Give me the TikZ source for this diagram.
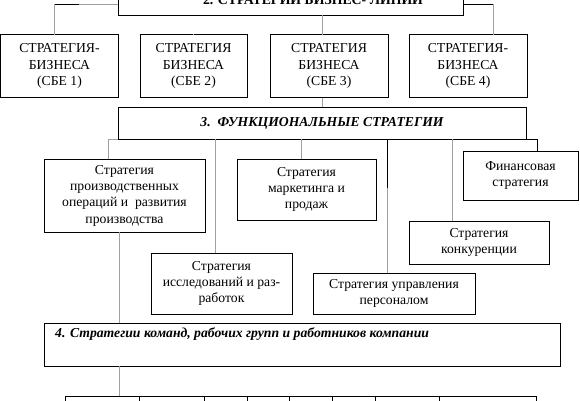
\documentclass[tikz,border=0pt]{standalone}
\usepackage{fontspec}
\setmainfont{Liberation Serif}
\definecolor{lgray}{RGB}{160,160,160}
\tikzset{
  box/.style={draw=black, line width=0.9pt, inner sep=0pt, outer sep=0pt, align=center,
    font=\fontsize{13.7}{16.3}\selectfont},
  cell/.style={draw=black, line width=0.9pt, inner sep=0pt, outer sep=0pt, minimum height=30pt},
  gline/.style={draw=lgray, line width=1pt},
  bline/.style={draw=black, line width=1pt},
  hdr/.style={font=\fontsize{13.7}{15}\selectfont\bfseries\itshape}
}
\begin{document}
\begin{tikzpicture}[x=1pt,y=-1pt]
\useasboundingbox (0,0) rectangle (580,400);
\clip (0,0) rectangle (580,400);
% level 2
\node[box, minimum width=345pt, minimum height=30pt] (top) at (290.5,0) {};
\node[font=\fontsize{13.8}{15}\selectfont\bfseries, inner sep=0pt, anchor=base] (toptxt) at (313,4) {2. СТРАТЕГИИ БИЗНЕС- ЛИНИИ};
% SBE boxes
\node[box, minimum width=118pt, minimum height=63pt] (s1) at (59.5,66) {СТРАТЕГИЯ-\\БИЗНЕСА\\(СБЕ 1)};
\node[box, minimum width=107pt, minimum height=63pt] (s2) at (193.5,66) {СТРАТЕГИЯ\\БИЗНЕСА\\(СБЕ 2)};
\node[box, minimum width=118pt, minimum height=63pt] (s3) at (329,66) {СТРАТЕГИЯ\\БИЗНЕСА\\(СБЕ 3)};
\node[box, minimum width=118pt, minimum height=63pt] (s4) at (468,66) {СТРАТЕГИЯ-\\БИЗНЕСА\\(СБЕ 4)};
% level 3
\node[box, minimum width=408pt, minimum height=32pt, hdr] (f3) at (322,123) {3.\ \ ФУНКЦИОНАЛЬНЫЕ СТРАТЕГИИ};
\node[box, minimum width=161pt, minimum height=73pt] (prod) at (124.5,195.5) {Стратегия\\производственных\\операций и\ \ развития\\производства};
\node[box, minimum width=139pt, minimum height=61pt] (mark) at (306.5,189.5) {Стратегия\\маркетинга и\\продаж};
\node[box, minimum width=115pt, minimum height=49pt] (fin) at (520.5,175.5) {Финансовая\\стратегия};
\node[box, minimum width=140pt, minimum height=43pt] (comp) at (479,242.5) {Стратегия\\конкуренции};
\node[box, minimum width=141pt, minimum height=61pt] (res) at (221.5,283.5) {Стратегия\\исследований и раз-\\работок};
\node[box, minimum width=162pt, minimum height=41pt] (pers) at (394,293.5) {Стратегия управления\\персоналом};
% level 4
\node[box, minimum width=516pt, minimum height=43pt] (f4) at (302,344.5) {};
\node[hdr, inner sep=0pt, anchor=north west] (f4t) at (55,327) {4. Стратегии команд, рабочих групп и работников компании};
% bottom row cells
\node[cell, minimum width=74.5pt, anchor=north west] (c1) at (65,396) {};
\node[cell, minimum width=64.5pt, anchor=north west] (c2) at (139.5,396) {};
\node[cell, minimum width=43pt, anchor=north west] (c3) at (204,396) {};
\node[cell, minimum width=42pt, anchor=north west] (c4) at (247,396) {};
\node[cell, minimum width=43pt, anchor=north west] (c5) at (289,396) {};
\node[cell, minimum width=43pt, anchor=north west] (c6) at (332,396) {};
\node[cell, minimum width=64pt, anchor=north west] (c7) at (375,396) {};
\node[cell, minimum width=97pt, anchor=north west] (c8) at (439,396) {};
% connectors level 2 -> SBE
\coordinate (tl1) at (79,4.3);
\coordinate (tl2) at (54,4.3);
\draw[gline] (top.west |- tl1) -- (tl1);
\draw[bline] (tl1) -- (tl2);
\draw[gline] (tl2) -- (tl2 |- s1.north);
\draw[gline] (s2.north -| 193,0) -- (s2.north);
\draw[gline] (top.south -| 322,0) -- (s3.north -| 322,0);
\coordinate (tr1) at (493,4.3);
\draw[bline] (top.east |- tr1) -- (tr1);
\draw[gline] (tr1) -- (tr1 |- s4.north);
% SBE3 -> F3
\draw[gline] (s3.south -| 322,0) -- (f3.north -| 322,0);
% F3 -> functional boxes
\coordinate (fl) at (108,139);
\draw[gline] (f3.south west) -- (fl) -- (fl |- prod.north);
\draw[gline] (f3.south -| 215.5,0) -- (res.north -| 215.5,0);
\draw[gline] (f3.south -| 301,0) -- (mark.north -| 301,0);
\coordinate (pm) at (387,188);
\draw[bline] (f3.south -| pm) -- (pm);
\draw[gline] (pm) -- (pers.north -| pm);
\draw[gline] (f3.south -| 452,0) -- (comp.north -| 452,0);
\coordinate (fr) at (537,139);
\draw[bline] (f3.south east) -- (fr) -- (fr |- fin.north);
% prod -> F4 -> bottom row
\draw[gline] (prod.south -| 119,0) -- (f4.north -| 119,0);
\draw[gline] (f4.south -| 119,0) -- (c1.north -| 119,0);
\end{tikzpicture}
\end{document}
